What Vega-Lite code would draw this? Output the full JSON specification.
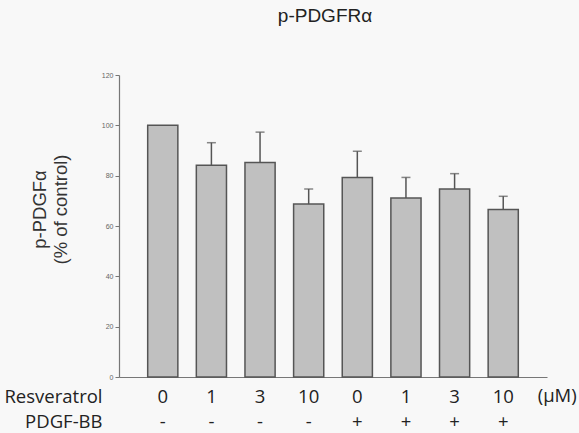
{
  "$schema": "https://vega.github.io/schema/vega-lite/v6.json",
  "width": 428,
  "height": 302,
  "autosize": {"type": "none"},
  "padding": {"left": 119, "top": 75, "right": 32, "bottom": 56},
  "background": "#f8f8f8",
  "title": {"text": "p-PDGFRα", "font": "Liberation Sans", "fontSize": 19, "fontWeight": "normal", "color": "#222", "offset": 45, "dx": -8, "frame": "group", "anchor": "middle"},
  "config": {"view": {"stroke": null}},
  "datasets": {
    "bars": [
      {"cond": "0|-", "value": 100, "hi": null},
      {"cond": "1|-", "value": 84.1, "hi": 93.1},
      {"cond": "3|-", "value": 85.2, "hi": 97.3},
      {"cond": "10|-", "value": 68.7, "hi": 74.7},
      {"cond": "0|+", "value": 79.3, "hi": 89.7},
      {"cond": "1|+", "value": 71.1, "hi": 79.3},
      {"cond": "3|+", "value": 74.7, "hi": 80.8},
      {"cond": "10|+", "value": 66.6, "hi": 71.8}
    ],
    "unit": [{"cond": "10|+", "txt": "(μM)"}]
  },
  "encoding": {
    "x": {
      "field": "cond", "type": "nominal", "sort": null,
      "scale": {"domain": ["0|-", "1|-", "3|-", "10|-", "0|+", "1|+", "3|+", "10|+"], "paddingInner": 0.38, "paddingOuter": 0.59},
      "axis": {
        "labelExpr": "split(datum.label, '|')",
        "labelAngle": 0, "labelFont": "Open Sans", "labelFontSize": 18.5, "labelColor": "#222",
        "labelBaseline": "top", "labelPadding": 10, "labelLineHeight": 25,
        "ticks": false, "domainColor": "#777", "domainWidth": 1.2,
        "title": ["Resveratrol", "PDGF-BB"], "titleFont": "Open Sans", "titleFontSize": 18.5,
        "titleFontWeight": "normal", "titleColor": "#222", "titleAlign": "right",
        "titleBaseline": "top", "titleX": -17, "titleY": 10, "titleLineHeight": 25
      }
    }
  },
  "layer": [
    {
      "data": {"name": "bars"},
      "mark": {"type": "bar", "fill": "#c0c0c0", "stroke": "#555", "strokeWidth": 1.5},
      "encoding": {
        "y": {
          "field": "value", "type": "quantitative",
          "scale": {"domain": [0, 120], "nice": false},
          "axis": {
            "values": [0, 20, 40, 60, 80, 100, 120],
            "grid": false, "labelFont": "Liberation Sans", "labelFontSize": 7, "labelColor": "#666",
            "labelPadding": 2, "tickSize": 4, "tickColor": "#777", "domainColor": "#777", "domainWidth": 1.2,
            "title": ["p-PDGFα", "(% of control)"], "titleFont": "Liberation Sans", "titleFontSize": 18.5,
            "titleFontWeight": "normal", "titleColor": "#333", "titleAlign": "center",
            "titleBaseline": "middle", "titleLineHeight": 21, "titleX": -80, "titleY": 134
          }
        }
      }
    },
    {
      "data": {"name": "bars"},
      "transform": [{"filter": "datum.hi != null"}],
      "mark": {"type": "rule", "color": "#555", "strokeWidth": 1.5},
      "encoding": {
        "y": {"field": "hi", "type": "quantitative"},
        "y2": {"field": "value"}
      }
    },
    {
      "data": {"name": "bars"},
      "transform": [{"filter": "datum.hi != null"}],
      "mark": {"type": "tick", "color": "#555", "size": 9, "thickness": 1.5},
      "encoding": {
        "y": {"field": "hi", "type": "quantitative"}
      }
    },
    {
      "data": {"name": "unit"},
      "mark": {"type": "text", "font": "Open Sans", "fontSize": 18.5, "color": "#222", "y": "height", "dy": 19, "dx": 54, "baseline": "middle"},
      "encoding": {
        "text": {"field": "txt"}
      }
    }
  ]
}
